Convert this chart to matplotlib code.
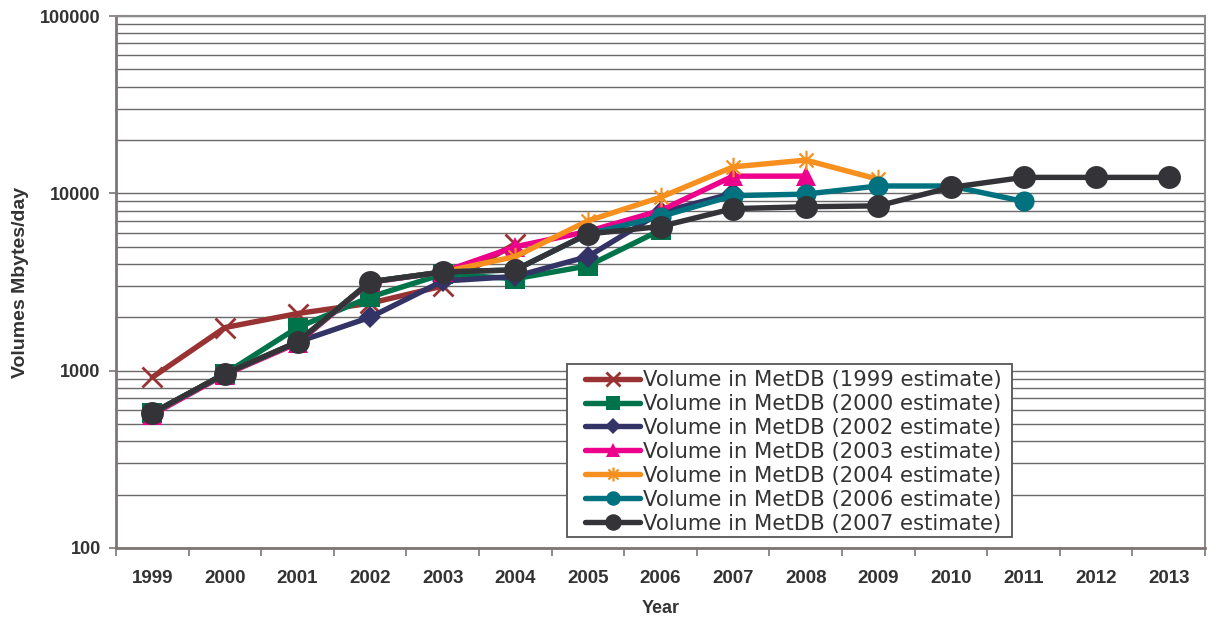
import numpy as np
import matplotlib
matplotlib.use("Agg")
import matplotlib.pyplot as plt
from matplotlib.path import Path
from matplotlib.patches import Rectangle
from matplotlib.ticker import LogLocator, NullFormatter, FixedLocator, FixedFormatter

years = ["1999", "2000", "2001", "2002", "2003", "2004", "2005", "2006",
         "2007", "2008", "2009", "2010", "2011", "2012", "2013"]

est_1999 = [917, 1750, 2100, 2400, 3000, 5200]
est_2000 = [575, 960, 1750, 2600, 3500, 3300, 3900, 6200]
est_2002 = [575, 960, 1450, 2000, 3200, 3400, 4400, 7800, 10000]
est_2003 = [565, 950, 1430, 3150, 3600, 5000, 6100, 8000, 12500, 12500]
est_2004 = [575, 960, 1450, 3170, 3600, 4400, 7000, 9500, 14100, 15400, 12000]
est_2006 = [575, 960, 1450, 3170, 3600, 3700, 5900, 7400, 9700, 9900, 11000, 11000, 9000]
est_2007 = [577, 960, 1450, 3170, 3600, 3700, 5900, 6500, 8200, 8400, 8500, 10800, 12300, 12300, 12300]

labels = ["Volume in MetDB (1999 estimate)", "Volume in MetDB (2000 estimate)",
          "Volume in MetDB (2002 estimate)", "Volume in MetDB (2003 estimate)",
          "Volume in MetDB (2004 estimate)", "Volume in MetDB (2006 estimate)",
          "Volume in MetDB (2007 estimate)"]

# asterisk marker: vertical bar plus a diagonal cross
star_path = Path([(0, -1), (0, 1), (-0.72, -0.72), (0.72, 0.72), (-0.72, 0.72), (0.72, -0.72)],
                 [Path.MOVETO, Path.LINETO, Path.MOVETO, Path.LINETO, Path.MOVETO, Path.LINETO])

styles = [
    dict(color="#993333", marker="x", ms=14, mew=2.0),
    dict(color="#00734A", marker="s", ms=14, mew=0),
    dict(color="#333366", marker="D", ms=11, mew=0),
    dict(color="#EC008C", marker="^", ms=14.5, mew=0),
    dict(color="#F7901E", marker=star_path, ms=14, mew=1.6),
    dict(color="#00717F", marker="o", ms=14.5, mew=0),
    dict(color="#343338", marker="o", ms=16.5, mew=0),
]
series = [est_1999, est_2000, est_2002, est_2003, est_2004, est_2006, est_2007]

W, H = 1211, 621
fig = plt.figure(figsize=(W / 100, H / 100), dpi=100)
ax = fig.add_axes([116 / W, 1 - 548 / H, (1205 - 116) / W, (548 - 16) / H])

for vals, st, lab in zip(series, styles, labels):
    x = np.arange(len(vals))
    ax.plot(x, vals, color=st["color"], lw=3.9, marker=st["marker"], ms=st["ms"],
            mew=st["mew"], mec=st["color"], mfc=st["color"], label=lab,
            solid_capstyle="round", solid_joinstyle="round")

ax.set_yscale("log")
ax.set_ylim(100, 100000)
ax.set_xlim(-0.5, len(years) - 0.5)

# horizontal grid on every minor and major decade step
ax.yaxis.set_minor_locator(LogLocator(base=10, subs=np.arange(2, 10), numticks=20))
ax.yaxis.set_minor_formatter(NullFormatter())
ax.set_yticks([100, 1000, 10000, 100000])
ax.set_yticklabels(["100", "1000", "10000", "100000"])
ax.grid(True, which="both", axis="y", color="#6a6a6a", lw=1.0)
ax.set_axisbelow(True)
ax.tick_params(axis="y", which="major", length=5, width=1.2, color="#7f7575",
               pad=6, labelsize=13, labelcolor="#333333")
ax.tick_params(axis="y", which="minor", length=0)

# category labels centred, tick marks on category boundaries
ax.xaxis.set_major_locator(FixedLocator(np.arange(-0.5, len(years), 1.0)))
ax.xaxis.set_major_formatter(FixedFormatter([""] * (len(years) + 1)))
ax.xaxis.set_minor_locator(FixedLocator(np.arange(len(years))))
ax.xaxis.set_minor_formatter(FixedFormatter(years))
ax.tick_params(axis="x", which="major", length=6, width=1.2, color="#7f7575", direction="out")
ax.tick_params(axis="x", which="minor", length=0, pad=15.5, labelsize=13.5, labelcolor="#333333")

for lab in ax.get_xticklabels(minor=True) + ax.get_yticklabels():
    lab.set_fontfamily("Liberation Sans")
    lab.set_fontweight("bold")

for side in ["left", "bottom"]:
    ax.spines[side].set_color("#7f7575")
    ax.spines[side].set_linewidth(2.0)
for side in ["top", "right"]:
    ax.spines[side].set_color("#8f8a8a")
    ax.spines[side].set_linewidth(1.5)

ax.set_xlabel("Year", fontsize=13, fontweight="bold", family="Liberation Sans", color="#333333")
ax.xaxis.set_label_coords(0.5, -0.097)
ax.set_ylabel("Volumes Mbytes/day", fontsize=14, fontweight="bold", family="Liberation Sans",
              color="#333333")
ax.yaxis.set_label_coords(-0.08, 0.5)

# legend frame drawn as its own box, entries placed inside it
box = Rectangle((567 / W, 1 - 537 / H), (1012 - 567) / W, (537 - 364) / H,
                transform=fig.transFigure, facecolor="white", edgecolor="#555555",
                lw=1.3, zorder=4.9, clip_on=False)
ax.add_patch(box)
leg = ax.legend(loc="upper left", bbox_to_anchor=(585 / W, 1 - 370 / H),
                bbox_transform=fig.transFigure, borderaxespad=0, borderpad=0,
                handlelength=2.6, handletextpad=0.12, labelspacing=0.185,
                markerscale=0.72, frameon=False,
                prop={"family": "DejaVu Sans", "size": 15.25})
for t in leg.get_texts():
    t.set_color("#333333")

fig.savefig("out.png", dpi=100)
